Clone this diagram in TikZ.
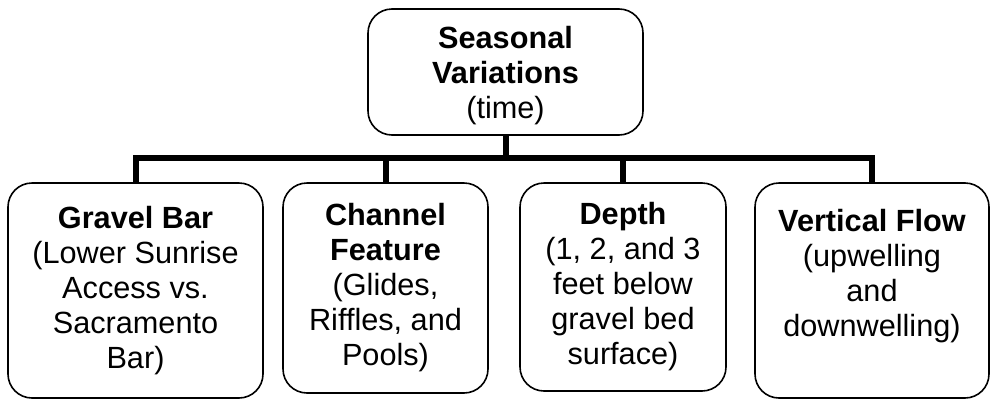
\documentclass[tikz,border=0pt]{standalone}
\usepackage{fontspec}
\setmainfont{Liberation Sans}
\usepackage{xcolor}

\begin{document}
\begin{tikzpicture}[x=0.75pt,y=0.75pt,yscale=-1,xscale=1,
  txt/.style={align=center, inner sep=0pt, font=\fontsize{23}{26.25}\selectfont},
  box/.style={txt, draw, line width=1.2pt, rounded corners=18pt},
  bus/.style={line width=4.5pt, line join=miter}]
\useasboundingbox (0,0) rectangle (991,400);

%Shape: Rounded Rect [top]
\node[box, minimum width=206.25pt, minimum height=94.5pt] (season) at (505.5,72) {};
% Text Node
\node[txt] (seasontxt) at (505.5,76) {\textbf{Seasonal}\\\textbf{Variations}\\(time)};

%Shape: Rounded Rect [row]
\node[box, minimum width=191.25pt, minimum height=161.25pt] (gravel) at (135.5,290.5)
  {\textbf{Gravel Bar}\\(Lower Sunrise\\Access vs.\\Sacramento\\Bar)};
\node[box, minimum width=153.75pt, minimum height=157.5pt] (channel) at (385.5,288)
  {\textbf{Channel}\\\textbf{Feature}\\(Glides,\\Riffles, and\\Pools)};
\node[box, minimum width=154.5pt, minimum height=156pt] (depth) at (623,287)
  {\textbf{Depth}\\(1, 2, and 3\\feet below\\gravel bed\\surface)};
\node[box, minimum width=175.5pt, minimum height=161.25pt] (flow) at (872,290.5)
  {\textbf{Vertical Flow}\\(upwelling\\and\\downwelling)\\~};

% bus line
\coordinate (bus) at (0,158);
\draw[bus] (season.south) -- (season.south |- bus);
\draw[bus] (gravel.north) -- (gravel.north |- bus) -- (flow.north |- bus) -- (flow.north);
\draw[bus] (channel.north) -- (channel.north |- bus);
\draw[bus] (depth.north) -- (depth.north |- bus);

\end{tikzpicture}
\end{document}
